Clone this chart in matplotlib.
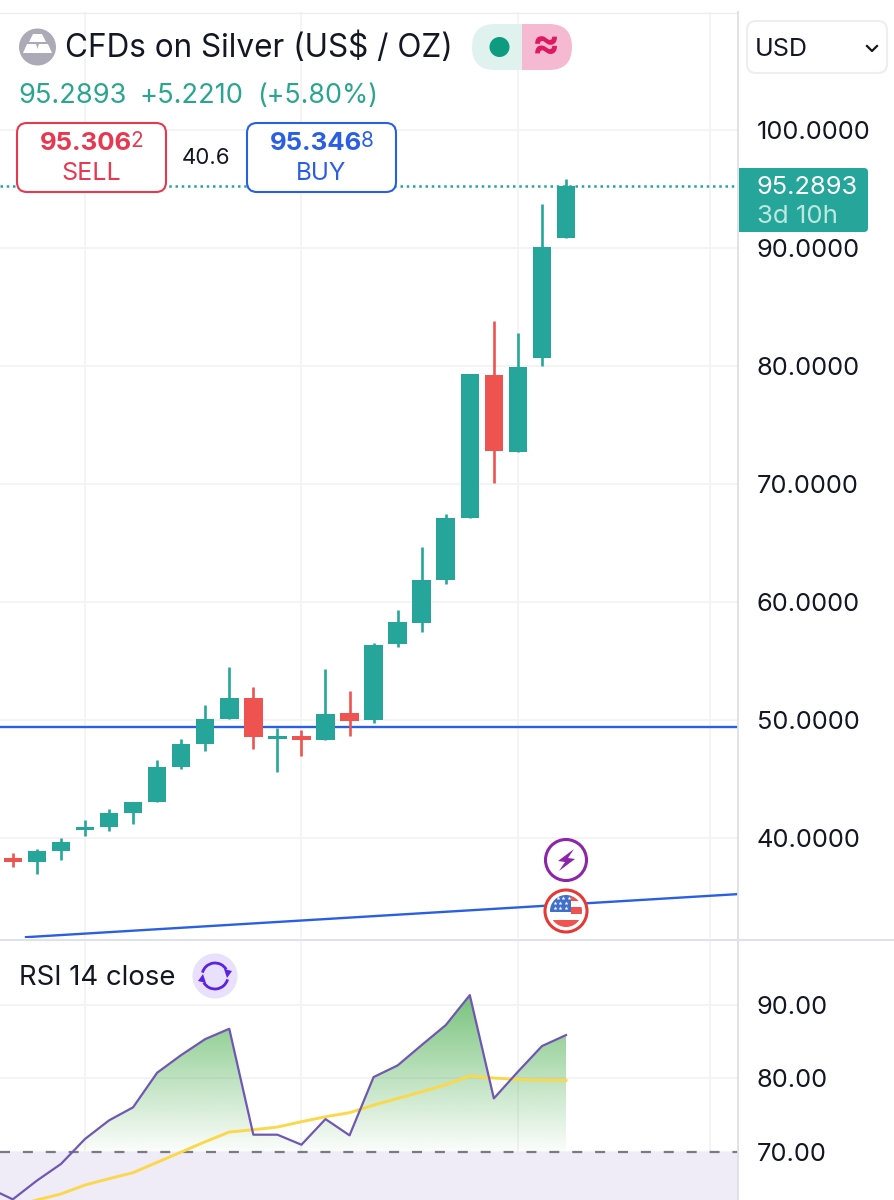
import matplotlib
matplotlib.use('Agg')
import numpy as np
import matplotlib.pyplot as plt
from matplotlib.patches import Circle, FancyBboxPatch, Polygon, Rectangle, Arc
from matplotlib.path import Path

plt.rcParams['font.family'] = ['Inter', 'DejaVu Sans']

# Candles, left to right.
opens = [38.33, 37.94, 38.88, 40.68, 40.93, 42.12, 43.05, 46.00, 47.94, 50.11, 51.84, 48.39,
         48.62, 48.28, 50.57, 50.00, 56.44, 58.22, 61.86, 67.16, 79.24, 72.74, 80.68, 90.87]
closes = [37.94, 38.90, 39.66, 40.96, 42.12, 43.08, 46.02, 47.97, 50.11, 51.84, 48.58, 48.67,
          48.28, 50.48, 49.94, 56.38, 58.31, 61.89, 67.12, 79.32, 72.80, 79.92, 90.08, 95.29]
highs = [38.75, 39.07, 39.97, 41.50, 42.43, 43.08, 46.61, 48.39, 51.25, 54.49, 52.77, 49.35,
         49.15, 54.35, 52.48, 56.55, 59.32, 64.66, 67.46, 79.32, 83.79, 82.80, 93.73, 95.85]
lows = [37.52, 36.97, 38.11, 40.17, 40.57, 41.16, 43.05, 45.85, 47.40, 50.11, 47.57, 45.57,
        46.92, 48.28, 48.62, 49.77, 56.21, 57.48, 61.53, 67.16, 70.08, 72.74, 79.97, 90.87]

last_price = 95.2893
support_level = 49.41
trend_x = [0.55, 30.15]
trend_y = [31.60, 35.25]

# RSI starts one bar left of the first candle.
rsi_x = list(range(-1, 24))
rsi = [65.05, 63.50, 66.05, 68.32, 71.73, 74.27, 76.05, 80.77, 83.18, 85.36, 86.77, 72.32, 72.32,
       70.95, 74.45, 72.23, 80.18, 81.77, 84.55, 87.27, 91.36, 77.27, 80.91, 84.41, 85.91]
rsi_ma_x = list(range(0, 24))
rsi_ma = [62.50, 63.41, 64.23, 65.45, 66.32, 67.14, 68.55, 69.95, 71.36, 72.68, 73.00, 73.36,
          74.09, 74.77, 75.32, 76.36, 77.27, 78.18, 79.14, 80.32, 80.05, 79.86, 79.77, 79.73]

price_ticks = [100, 90, 80, 70, 60, 50, 40]
rsi_ticks = [90, 80, 70]
time_grid = [3, 12, 21, 29]

UP = '#26A69A'
DOWN = '#EF5350'
GRID = '#F3F3F5'
BLUE = '#2B5FE3'

fig = plt.figure(figsize=(8.95, 12), dpi=100, facecolor='white')
W, H = 895, 1200

# Price panel
ax = fig.add_axes([0, (H - 938) / H, 738 / W, 926 / H])
ax.set_xlim(-0.532, 30.15)
ax.set_ylim(31.53, 110)
for s in ax.spines.values():
    s.set_visible(False)
ax.yaxis.tick_right()
ax.set_xticks(time_grid)
ax.set_xticklabels([])
ax.set_yticks(price_ticks)
ax.set_yticklabels(['%.4f' % p for p in price_ticks], fontsize=18.3, color='#131722')
ax.tick_params(axis='both', length=0)
ax.tick_params(axis='y', pad=13.5)
ax.grid(True, color=GRID, lw=1.3)
ax.set_axisbelow(True)

ax.axhline(support_level, color=BLUE, lw=1.7, zorder=2)
ax.plot(trend_x, trend_y, color=BLUE, lw=1.7, zorder=2)
ax.axhline(last_price, color=UP, lw=1.8, ls=(0, (1, 1.5)), zorder=2)

x = np.arange(len(opens))
colors = [UP if c >= o else DOWN for o, c in zip(opens, closes)]
ax.vlines(x, lows, highs, colors=colors, lw=1.9, zorder=3)
ax.bar(x, np.array(closes) - np.array(opens), bottom=opens, width=0.77, color=colors, zorder=3)

# RSI panel
ax2 = fig.add_axes([0, 0, 738 / W, (H - 940) / H])
ax2.set_xlim(-0.532, 30.15)
ax2.set_ylim(63.41, 98.88)
for s in ax2.spines.values():
    s.set_visible(False)
ax2.yaxis.tick_right()
ax2.set_xticks(time_grid)
ax2.set_xticklabels([])
ax2.set_yticks(rsi_ticks)
ax2.set_yticklabels(['%.2f' % r for r in rsi_ticks], fontsize=18.3, color='#131722')
ax2.tick_params(axis='both', length=0)
ax2.tick_params(axis='y', pad=13.5)
ax2.grid(True, color=GRID, lw=1.3)
ax2.set_axisbelow(True)

ax2.axhspan(63.41, 70, color='#EFEBF7', lw=0, zorder=1)
ax2.axhline(70, color='#787B86', lw=1.6, ls=(0, (4.5, 5.8)), zorder=2)

# Green gradient under the RSI line, only above 70.
rx = np.array(rsi_x, dtype=float)
ry = np.array(rsi)
above = ax2.fill_between(rx, ry, 70, where=ry >= 70, interpolate=True, color='none', lw=0)
clip = Path.make_compound_path(*above.get_paths())
grad = np.zeros((256, 1, 4))
grad[:, 0, 0] = 76 / 255
grad[:, 0, 1] = 175 / 255
grad[:, 0, 2] = 80 / 255
grad[:, 0, 3] = np.linspace(0.75, 0.02, 256)
im = ax2.imshow(grad, extent=[rx[0], rx[-1], 70, max(rsi)], origin='upper', aspect='auto', zorder=2)
im.set_clip_path(clip, transform=ax2.transData)
ax2.set_xlim(-0.532, 30.15)
ax2.set_ylim(63.41, 98.88)

ax2.plot(rsi_ma_x, rsi_ma, color='#FBD84B', lw=2.1, zorder=3)
ax2.plot(rsi_x, rsi, color='#7057B4', lw=1.6, zorder=4)

# Overlay in pixel coordinates for the widget chrome.
ui = fig.add_axes([0, 0, 1, 1], facecolor='none')
ui.set_xlim(0, W)
ui.set_ylim(H, 0)
ui.axis('off')


def box(x0, y0, x1, y1, fc, ec, lw=1.5, r=10, z=5):
    p = FancyBboxPatch((x0 + r, y0 + r), x1 - x0 - 2 * r, y1 - y0 - 2 * r,
                       boxstyle='round,pad=%d,rounding_size=%d' % (r, r),
                       fc=fc, ec=ec, lw=lw, zorder=z)
    ui.add_patch(p)
    return p


# panel borders
ui.plot([0, 738], [12.5, 12.5], color='#EEEEF0', lw=1)
ui.plot([738, 738], [12, 1200], color='#E0E0E3', lw=1.3)
ui.plot([0, 895], [939.5, 939.5], color='#E0E0EE', lw=1.5)

# silver icon
ui.add_patch(Circle((37.5, 47), 18.5, fc='#ACAAB6', ec='none', zorder=5))
ui.add_patch(Polygon([[33, 34], [42, 34], [46, 42], [29, 42]], fc='white', ec='none', zorder=6))
ui.add_patch(Polygon([[27, 44], [36, 44], [39, 53], [23, 53]], fc='white', ec='none', zorder=6))
ui.add_patch(Polygon([[39, 44], [48, 44], [52, 53], [36, 53]], fc='white', ec='none', zorder=6))

ui.text(65, 48.5, 'CFDs on Silver (US$ / OZ)', fontsize=22.7, color='#131722', va='center', zorder=6)

# status pill
left = box(472, 24, 572, 70, '#DFF2EE', 'none', lw=0, r=23)
left.set_clip_path(Rectangle((472, 24), 50, 46, transform=ui.transData))
right = box(472, 24, 572, 70, '#F6B9D2', 'none', lw=0, r=23)
right.set_clip_path(Rectangle((522, 24), 50, 46, transform=ui.transData))
ui.add_patch(Circle((499.5, 47), 10, fc='#0E9B7F', ec='none', zorder=6))
ui.text(545.5, 46, '≈', fontsize=30, color='#E0185F', fontweight='bold', ha='center', va='center', zorder=6)

# price change line
ui.text(18, 96, '95.2893', fontsize=19.6, color='#2BA58F', va='center', zorder=6)
ui.text(139, 96, '+5.2210', fontsize=19.6, color='#2BA58F', va='center', zorder=6)
ui.text(257, 96, '(+5.80%)', fontsize=19.3, color='#2BA58F', va='center', zorder=6)

# sell / buy boxes
box(17, 123, 166, 192, 'white', '#E8384F')
box(247, 123, 396, 192, 'white', BLUE)
ui.text(86, 144, '95.306', fontsize=18.6, fontweight='bold', color='#E8384F', ha='center', va='center', zorder=6)
ui.text(137, 141, '2', fontsize=15, color='#E8384F', ha='center', va='center', zorder=6)
ui.text(91, 174, 'SELL', fontsize=18, color='#E8384F', ha='center', va='center', zorder=6)
ui.text(316, 144, '95.346', fontsize=18.6, fontweight='bold', color=BLUE, ha='center', va='center', zorder=6)
ui.text(367, 141, '8', fontsize=15, color=BLUE, ha='center', va='center', zorder=6)
ui.text(321.5, 174, 'BUY', fontsize=17.5, color=BLUE, ha='center', va='center', zorder=6)
ui.text(206.5, 158, '40.6', fontsize=16, color='#131722', ha='center', va='center', zorder=6)

# currency dropdown
box(747, 21, 887, 73, 'white', '#EEEEF0', lw=1.5, r=9)
ui.text(755, 49, 'USD', fontsize=18, color='#131722', va='center', zorder=6)
ui.plot([867, 872, 877], [46, 51, 46], color='#131722', lw=1.6, zorder=6)

# last price tag
box(739, 168, 868, 232, UP, 'none', lw=0, r=4)
ui.add_patch(Rectangle((739, 168), 10, 64, fc=UP, ec='none', zorder=5))
ui.text(757, 188, '95.2893', fontsize=18.3, color='white', va='center', zorder=6)
ui.text(757, 216.5, '3d 10h', fontsize=18.6, color='#BDE8E0', va='center', zorder=6)

# lightning icon
ui.add_patch(Circle((566, 860), 20.5, fc='white', ec='#8E24AA', lw=2.2, zorder=5))
ui.add_patch(Polygon([[574, 849], [558, 861], [565, 862], [559, 871], [575, 859], [568, 858]],
                     fc='#8E24AA', ec='none', zorder=6))

# US flag icon
ui.add_patch(Circle((566, 911), 21, fc='white', ec='#E53935', lw=2.2, zorder=5))
flag_clip = Circle((566, 911), 16, transform=ui.transData)
for (y0, y1, x0) in [(895, 901, 571), (907, 914, 571), (920, 928, 549)]:
    r = Rectangle((x0, y0), 584 - x0, y1 - y0, fc='#EF5350', ec='none', zorder=6)
    ui.add_patch(r)
    r.set_clip_path(flag_clip)
r = Rectangle((549, 894), 22, 18, fc='#3F6FC8', ec='none', zorder=6)
ui.add_patch(r)
r.set_clip_path(flag_clip)
ui.scatter([558, 563.5, 569, 555, 560.5, 566, 555, 560.5, 566],
           [898, 898, 898, 903, 903, 903, 908, 908, 908],
           marker='*', s=9, color='white', lw=0, zorder=7)

# RSI legend
ui.text(19, 978, 'RSI 14 close', fontsize=19.8, color='#131722', va='center', zorder=6)
ui.add_patch(Circle((215, 976), 22.5, fc='#E9E0FB', ec='none', zorder=5))
ui.add_patch(Arc((215, 976), 26, 26, theta1=195, theta2=330, color='#5B21E6', lw=2, zorder=6))
ui.add_patch(Arc((215, 976), 26, 26, theta1=15, theta2=150, color='#5B21E6', lw=2, zorder=6))
ui.add_patch(Polygon([[224, 969], [232, 971], [227, 978]], fc='#5B21E6', ec='none', zorder=6))
ui.add_patch(Polygon([[206, 983], [198, 981], [203, 974]], fc='#5B21E6', ec='none', zorder=6))

fig.savefig('out.png', dpi=100)
